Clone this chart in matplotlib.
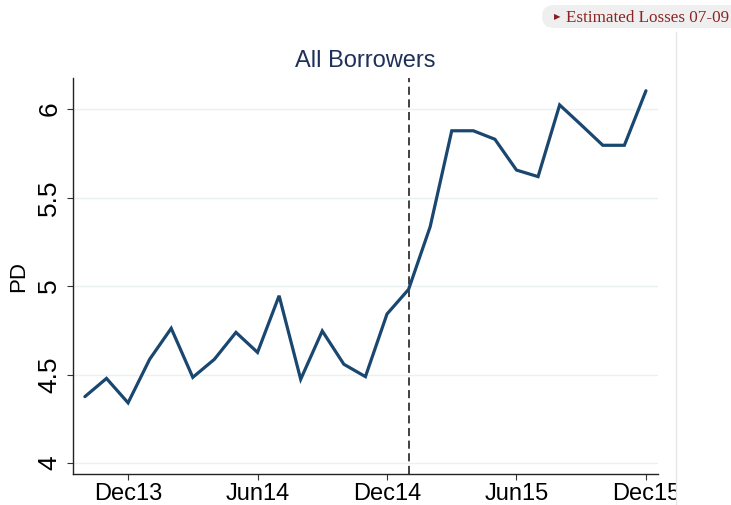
import matplotlib
matplotlib.use("Agg")
import matplotlib.pyplot as plt
from matplotlib.patches import FancyBboxPatch
from matplotlib.transforms import IdentityTransform
import numpy as np

plt.rcParams['font.family'] = ['Liberation Sans', 'DejaVu Sans']

# monthly PD for all borrowers, Oct13 .. Dec15
months = ["Oct13", "Nov13", "Dec13", "Jan14", "Feb14", "Mar14", "Apr14", "May14", "Jun14",
          "Jul14", "Aug14", "Sep14", "Oct14", "Nov14", "Dec14", "Jan15", "Feb15", "Mar15",
          "Apr15", "May15", "Jun15", "Jul15", "Aug15", "Sep15", "Oct15", "Nov15", "Dec15"]
pd_values = [4.375, 4.478, 4.340, 4.586, 4.761, 4.484, 4.586, 4.738, 4.625,
             4.945, 4.473, 4.746, 4.558, 4.488, 4.842, 4.981, 5.335, 5.877,
             5.877, 5.829, 5.655, 5.618, 6.023, 5.910, 5.795, 5.795, 6.103]
tick_labels = ["Dec13", "Jun14", "Dec14", "Jun15", "Dec15"]
y_ticks = [4, 4.5, 5, 5.5, 6]
y_tick_labels = ["4", "4.5", "5", "5.5", "6"]
event_month = "Jan15"

x = np.arange(len(months))
tick_pos = [months.index(m) for m in tick_labels]

fig = plt.figure(figsize=(7.31, 5.05), dpi=100)
ax = fig.add_axes([0.0999, 0.0614, 0.8003, 0.7841])

for yv in y_ticks:
    ax.axhline(yv, color='#e9f1f2', lw=1.0, zorder=0)

ax.plot(x, pd_values, color='#1a476f', lw=2.3, solid_capstyle='round',
        solid_joinstyle='miter', zorder=3)
ax.axvline(months.index(event_month), color='#333333', lw=1.3,
           linestyle=(0, (4.5, 2.5)), zorder=2)

ax.set_xlim(-0.55, 26.56)
ax.set_ylim(3.938, 6.175)
ax.set_xticks(tick_pos)
ax.set_xticklabels(tick_labels, fontsize=17)
ax.set_yticks(y_ticks)
ax.set_yticklabels(y_tick_labels, fontsize=19, rotation=90, va='center')
ax.tick_params(axis='both', length=4.5, width=0.8, color='#333333')
ax.tick_params(axis='x', pad=2)
ax.tick_params(axis='y', pad=4)
ax.set_ylabel("PD", fontsize=16, labelpad=6)

for side in ['top', 'right']:
    ax.spines[side].set_visible(False)
for side in ['left', 'bottom']:
    ax.spines[side].set_color('#222222')
    ax.spines[side].set_linewidth(1.0)

fig.text(0.4999, 0.879, "All Borrowers", fontsize=17, color='#1f3158',
         ha='center', va='center')

# page border on the right hides the overflow of the last tick label
fig.patches.append(plt.Rectangle((676 / 731, 0), 55 / 731, 473 / 505,
                                 transform=fig.transFigure, facecolor='white',
                                 edgecolor='none', zorder=10))
fig.add_artist(plt.Line2D([675.5 / 731, 675.5 / 731], [0, 473 / 505],
                          transform=fig.transFigure, color='#e6e6e6', lw=1.0, zorder=11))

# "Estimated Losses" button in the top right corner (pixel coordinates)
pill = FancyBboxPatch((542, 477), 220, 23,
                      boxstyle="round,pad=0,rounding_size=11.5",
                      transform=IdentityTransform(), facecolor='#efefef',
                      edgecolor='none', zorder=10)
fig.patches.append(pill)
fig.text(557.5 / 731, 488.5 / 505, "\u25B6", fontsize=6, color='#8b1c1c',
         ha='center', va='center', family='DejaVu Sans', zorder=12)
fig.text(566 / 731, 487.5 / 505, "Estimated Losses 07-09", fontsize=12.3,
         color='#8b2525', ha='left', va='center', family='Liberation Serif', zorder=12)

fig.savefig("out.png", dpi=100)
